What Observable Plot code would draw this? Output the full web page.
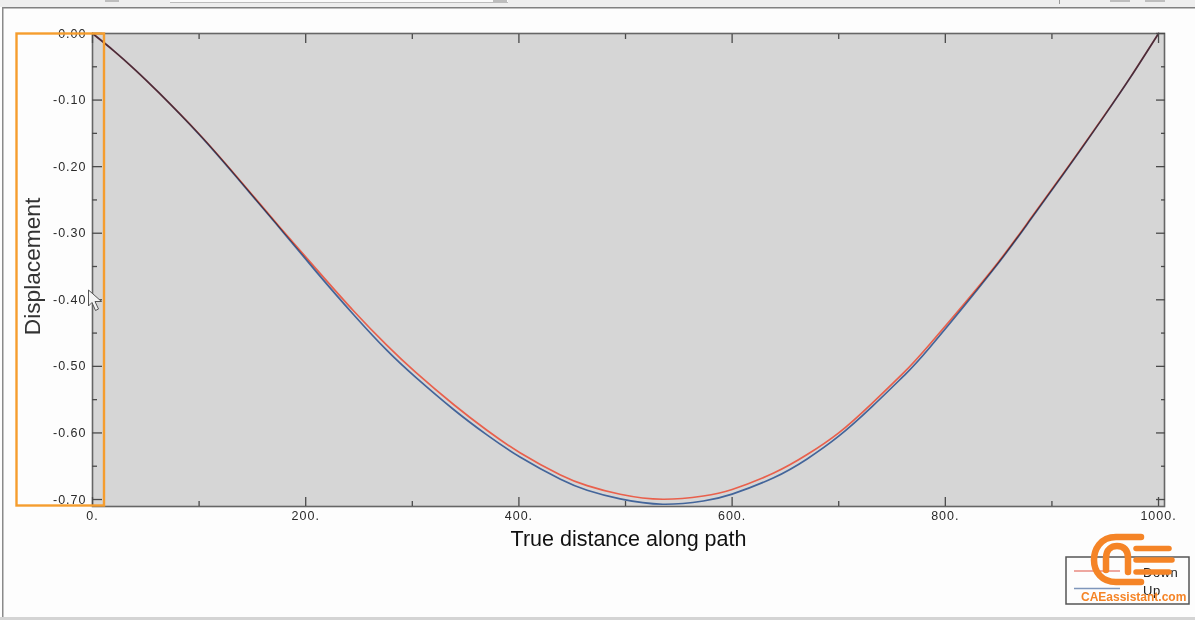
<!DOCTYPE html>
<html>
<head>
<meta charset="utf-8">
<script src="https://cdn.jsdelivr.net/npm/d3@7"></script>
<script src="https://cdn.jsdelivr.net/npm/@observablehq/plot@0.6"></script>
<style>
  html, body { margin: 0; padding: 0; background: #fdfdfd; overflow: hidden; }
  #stage { position: relative; width: 1195px; height: 620px; }
  #stage > svg { position: absolute; left: 0; top: 0; display: block; }
  #chrome { pointer-events: none; }
  .tl text, text.tl { letter-spacing: 1px; }
</style>
</head>
<body>
<div id="stage"></div>
<script>
const distance = [0,20,40,62,100,135,172,210,245,276,303,339,370,401,439,464,495,535,573,600,639,670,700,731,761,786,844,880,911,949,974,1000];
const down = [0,-0.026,-0.0545,-0.0885,-0.151,-0.2145,-0.284,-0.354,-0.4169,-0.4682,-0.5087,-0.5577,-0.596,-0.6297,-0.6631,-0.6791,-0.6921,-0.6996,-0.6947,-0.6849,-0.6603,-0.6329,-0.5999,-0.5559,-0.5094,-0.4656,-0.3549,-0.278,-0.2097,-0.1236,-0.0648,0];
const up = [0,-0.026,-0.0545,-0.0885,-0.1515,-0.2155,-0.2855,-0.358,-0.4224,-0.4757,-0.5162,-0.5652,-0.603,-0.6362,-0.6696,-0.6861,-0.6991,-0.7071,-0.7022,-0.6919,-0.6673,-0.6394,-0.6049,-0.5609,-0.5144,-0.4706,-0.3569,-0.2795,-0.2107,-0.1241,-0.0651,0];
const xMajor = [0,200,400,600,800,1000];
const xMinor = [100,300,500,700,900];
const yMajor = [0,-0.1,-0.2,-0.3,-0.4,-0.5,-0.6,-0.7];
const yMinor = [-0.05,-0.15,-0.25,-0.35,-0.45,-0.55,-0.65];
const xTitle = "True distance along path";
const yTitle = "Displacement";
const legendNames = ["Down", "Up"];
const logoText = "CAEassistant.com";
const colors = {Down: "#e9604c", Up: "#5078b8"};

const series = (name, ys) => distance.map((d, i) => ({d, v: ys[i], name}));
const tickStyle = {stroke: "#4a4a4a", strokeWidth: 1.3, strokeOpacity: 1};
const font = "'Liberation Sans', Arial, sans-serif";

const plot = Plot.plot({
  width: 1195, height: 620,
  marginLeft: 92, marginRight: 31, marginTop: 33, marginBottom: 114,
  style: {background: "#fdfdfd", fontFamily: font, color: "#2a2a2a"},
  x: {domain: [0, 1005.6], label: null},
  y: {domain: [-0.7105, 0], label: null},
  marks: [
    Plot.frame({fill: "#d6d6d6", stroke: null}),
    Plot.line(series("Down", down), {x: "d", y: "v", stroke: colors.Down, strokeWidth: 1.7, curve: "natural"}),
    Plot.line(series("Up", up), {x: "d", y: "v", stroke: colors.Up, strokeWidth: 1.7, curve: "natural", mixBlendMode: "multiply"}),
    Plot.frame({stroke: "#666", strokeWidth: 1.6}),
    Plot.axisX({anchor: "bottom", ticks: xMajor, tickSize: -9, text: null, label: null, ...tickStyle}),
    Plot.axisX({anchor: "bottom", ticks: xMinor, tickSize: -5, text: null, label: null, ...tickStyle}),
    Plot.axisX({anchor: "top", ticks: xMajor, tickSize: -9, text: null, label: null, ...tickStyle}),
    Plot.axisX({anchor: "top", ticks: xMinor, tickSize: -5, text: null, label: null, ...tickStyle}),
    Plot.axisY({anchor: "left", ticks: yMajor, tickSize: -10, text: null, label: null, ...tickStyle}),
    Plot.axisY({anchor: "left", ticks: yMinor, tickSize: -5, text: null, label: null, ...tickStyle}),
    Plot.axisY({anchor: "right", ticks: yMajor, tickSize: -9, text: null, label: null, ...tickStyle}),
    Plot.axisY({anchor: "right", ticks: yMinor, tickSize: -4, text: null, label: null, ...tickStyle}),
    Plot.axisX({anchor: "bottom", ticks: xMajor, tickSize: 0, tickPadding: 5, label: null, tickFormat: d => d + ".", fontSize: 12.5, fill: "#2a2a2a", className: "tl"}),
    Plot.axisY({anchor: "left", ticks: yMajor, tickSize: 0, tickPadding: 6, label: null, tickFormat: d => d3.format(".2f")(d).replace("−", "-"), fontSize: 12.5, fill: "#2a2a2a", className: "tl"}),
    Plot.text([xTitle], {frameAnchor: "bottom", lineAnchor: "bottom", dy: 39, fontSize: 21.5, fill: "#111"}),
    Plot.text([yTitle], {frameAnchor: "left", textAnchor: "middle", rotate: -90, dx: -60, dy: -3.5, fontSize: 22.7, fill: "#333"})
  ]
});
const stage = document.getElementById("stage");
stage.appendChild(plot);

// Overlay: window chrome, highlight box, cursor, legend and watermark
const ns = "http://www.w3.org/2000/svg";
const o = document.createElementNS(ns, "svg");
o.setAttribute("id", "chrome");
o.setAttribute("width", 1195);
o.setAttribute("height", 620);
const add = (tag, attrs, text) => {
  const e = document.createElementNS(ns, tag);
  for (const k in attrs) e.setAttribute(k, attrs[k]);
  if (text) e.textContent = text;
  o.appendChild(e);
};
// window chrome
add("rect", {x: 0, y: 0, width: 1195, height: 7, fill: "#eeeeee"});
add("rect", {x: 105, y: 0, width: 14, height: 2, fill: "#bdbdbd"});
add("rect", {x: 170, y: 0, width: 338, height: 3, fill: "#fafafa"});
add("rect", {x: 170, y: 2, width: 338, height: 1, fill: "#bcbcbc"});
add("rect", {x: 493, y: 0, width: 14, height: 3, fill: "#bdbdbd"});
add("rect", {x: 1059, y: 0, width: 1, height: 4, fill: "#999"});
add("rect", {x: 1110, y: 0, width: 20, height: 2, fill: "#bdbdbd"});
add("rect", {x: 1145, y: 0, width: 20, height: 2, fill: "#bdbdbd"});
add("rect", {x: 2, y: 7, width: 1193, height: 1.5, fill: "#808080"});
add("rect", {x: 2, y: 7, width: 1.5, height: 610, fill: "#8a8a8a"});
add("rect", {x: 0, y: 617, width: 1195, height: 3, fill: "#d4d4d4"});
// highlight box
add("rect", {x: 16.5, y: 33.5, width: 87.5, height: 472, fill: "none", stroke: "#f59d2e", "stroke-width": 2.4});
// cursor
add("path", {d: "M88.5 290 L88.5 306 L92 302.5 L95.5 310.5 L98.5 309 L95 301.5 L101.5 301.5 Z", fill: "#f4f4f4", stroke: "#555", "stroke-width": 1});
// legend
add("rect", {x: 1066, y: 557, width: 123, height: 47, fill: "#fdfdfd", stroke: "#555", "stroke-width": 1.5});
add("line", {x1: 1074, x2: 1120, y1: 571, y2: 571, stroke: "#e88a80", "stroke-width": 1.5});
add("line", {x1: 1074, x2: 1120, y1: 588.5, y2: 588.5, stroke: "#7f96bb", "stroke-width": 1.5});
add("text", {x: 1143, y: 577, "font-family": font, "font-size": 13, "letter-spacing": 0.5, fill: "#222"}, legendNames[0]);
add("text", {x: 1143, y: 595, "font-family": font, "font-size": 13, "letter-spacing": 0.5, fill: "#222"}, legendNames[1]);
// watermark logo
const logo = {fill: "none", stroke: "#f58426", "stroke-width": 6.5, "stroke-linecap": "round", "stroke-linejoin": "round"};
add("path", {...logo, d: "M1141 537 L1116 537 C1100 537 1094 550 1094 560 C1094 572 1102 582 1116 582 L1141 582"});
add("path", {...logo, d: "M1106 570 L1106 558 C1106 549 1112 546 1117 546 C1124 546 1128 550 1128 558 L1128 570 L1128 572"});
add("line", {...logo, x1: 1136, x2: 1169, y1: 548.5, y2: 548.5, "stroke-width": 5.5});
add("line", {...logo, x1: 1136, x2: 1172, y1: 560, y2: 560, "stroke-width": 5.5});
add("line", {...logo, x1: 1136, x2: 1169, y1: 572, y2: 572, "stroke-width": 5.5});
add("text", {x: 1081, y: 601, "font-family": font, "font-size": 12, "font-weight": "bold", fill: "#f58426"}, logoText);
stage.appendChild(o);
</script>
</body>
</html>
